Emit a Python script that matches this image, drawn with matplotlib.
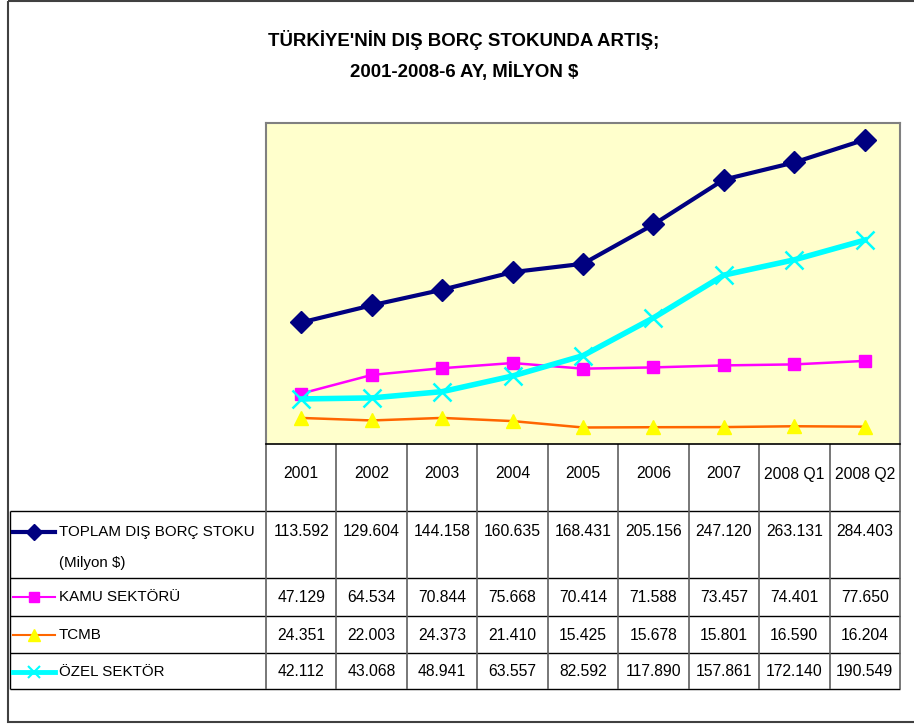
import matplotlib
matplotlib.use("Agg")
import matplotlib.pyplot as plt
from matplotlib import font_manager
from matplotlib.lines import Line2D

# Arial Narrow look-alike if present, else Arial metrics at a smaller size
names = {f.name for f in font_manager.fontManager.ttflist}
if "Liberation Sans Narrow" in names:
    FONT, K = "Liberation Sans Narrow", 1.0
else:
    FONT, K = "Liberation Sans", 0.84

categories = ["2001", "2002", "2003", "2004", "2005", "2006", "2007", "2008 Q1", "2008 Q2"]
toplam = [113.592, 129.604, 144.158, 160.635, 168.431, 205.156, 247.120, 263.131, 284.403]
kamu = [47.129, 64.534, 70.844, 75.668, 70.414, 71.588, 73.457, 74.401, 77.650]
tcmb = [24.351, 22.003, 24.373, 21.410, 15.425, 15.678, 15.801, 16.590, 16.204]
ozel = [42.112, 43.068, 48.941, 63.557, 82.592, 117.890, 157.861, 172.140, 190.549]

W, H = 914, 724
fig = plt.figure(figsize=(W / 100, H / 100), dpi=100)

# overlay in pixel coords for border, title and data table
tab = fig.add_axes([0, 0, 1, 1])
tab.set_xlim(0, W)
tab.set_ylim(H, 0)
tab.axis("off")

tab.add_patch(plt.Rectangle((8, 1), 920, 721, fill=False, ec="#404040", lw=1.5))
tab.text(464, 40, "TÜRKİYE'NİN DIŞ BORÇ STOKUNDA ARTIŞ;", ha="center", va="center",
         fontsize=16 * K, fontweight="bold", family=FONT)
tab.text(464, 72, "2001-2008-6 AY, MİLYON $", ha="center", va="center",
         fontsize=16 * K, fontweight="bold", family=FONT)

# plot area
L, R, T, B = 266, 900, 123, 444
ax = fig.add_axes([L / W, 1 - B / H, (R - L) / W, (B - T) / H])
ax.set_facecolor("#FFFFCC")
x = list(range(len(categories)))
ax.plot(x, tcmb, color="#FF6600", lw=1.8, marker="^", ms=10, mfc="#FFFF00", mec="#FFFF00", zorder=3)
ax.plot(x, kamu, color="#FF00FF", lw=1.8, marker="s", ms=8, mfc="#FF00FF", mec="#FF00FF", zorder=3)
ax.plot(x, ozel, color="#00FFFF", lw=4, marker="x", ms=13, mew=1.8, mec="#00FFFF", zorder=4)
ax.plot(x, toplam, color="#000080", lw=3, marker="D", ms=11, mfc="#000080", mec="#000080", zorder=5)
ax.set_xlim(-0.5, len(categories) - 0.5)
ax.set_ylim(0, 300)
ax.set_xticks([])
ax.set_yticks([])
for s in ["top", "left", "right"]:
    ax.spines[s].set_color("#808080")
    ax.spines[s].set_linewidth(1.5)
ax.spines["bottom"].set_color("black")
ax.spines["bottom"].set_linewidth(1.2)

# data table
n = len(categories)
cw = (R - L) / n
edges = [L + i * cw for i in range(n + 1)]
rows_y = [444, 511, 578, 616, 653, 689]
tab.hlines(rows_y[1:], 10, R, color="black", lw=1.0)
tab.vlines(edges, B, rows_y[-1], color="#606060", lw=1.2)
tab.vlines(10, rows_y[1], rows_y[-1], color="black", lw=1.0)

series = [
    (["TOPLAM DIŞ BORÇ STOKU", "(Milyon $)"], toplam,
     dict(color="#000080", lw=3, marker="D", ms=8, mfc="#000080", mec="#000080")),
    (["KAMU SEKTÖRÜ"], kamu,
     dict(color="#FF00FF", lw=1.5, marker="s", ms=7, mfc="#FF00FF", mec="#FF00FF")),
    (["TCMB"], tcmb,
     dict(color="#FF6600", lw=1.5, marker="^", ms=8, mfc="#FFFF00", mec="#FFFF00")),
    (["ÖZEL SEKTÖR"], ozel,
     dict(color="#00FFFF", lw=3.5, marker="x", ms=9, mew=1.5, mec="#00FFFF")),
]

fs = 13.5 * K
for i, c in enumerate(categories):
    tab.text((edges[i] + edges[i + 1]) / 2, 474, c, ha="center", va="center",
             fontsize=fs, family=FONT)

line_keys = ("color", "lw")
text_y = [532, 597, 635, 672]
for (label, vals, style), ty in zip(series, text_y):
    tab.add_line(Line2D([13, 55], [ty, ty], **{k: style[k] for k in line_keys}))
    tab.plot([34], [ty], ls="none", **{k: v for k, v in style.items() if k not in line_keys})
    tab.text(59, ty, label[0], ha="left", va="center", fontsize=fs * 0.96, family=FONT)
    if len(label) > 1:
        tab.text(59, ty + 31, label[1], ha="left", va="center", fontsize=fs * 0.96, family=FONT)
    for i, v in enumerate(vals):
        tab.text((edges[i] + edges[i + 1]) / 2, ty, f"{v:.3f}", ha="center", va="center",
                 fontsize=fs, family=FONT)

fig.savefig("out.png", dpi=100)
